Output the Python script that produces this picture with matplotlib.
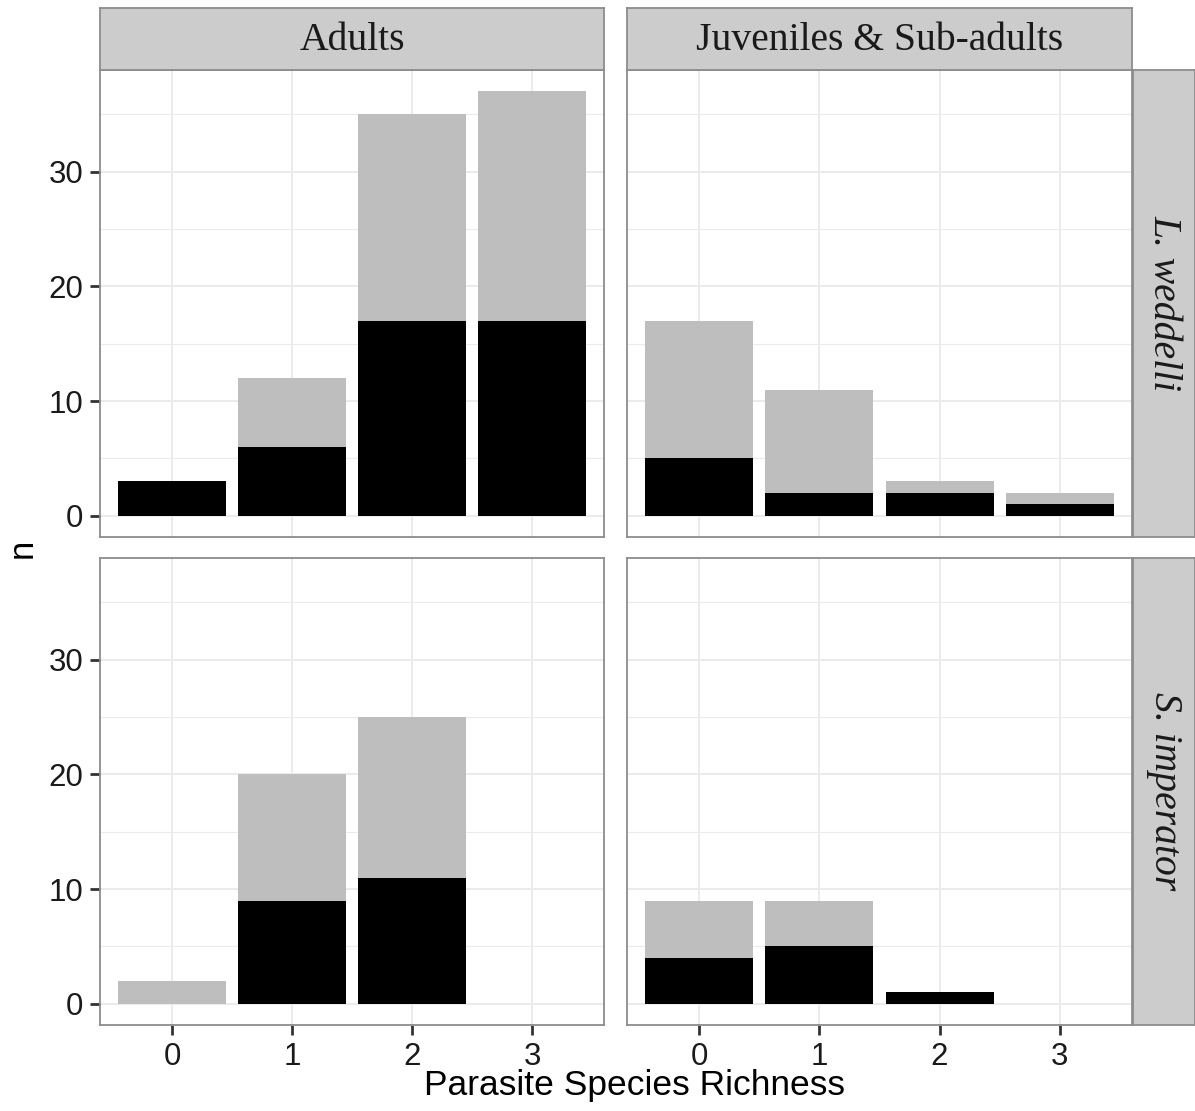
import numpy as np
import matplotlib
matplotlib.use('Agg')
import matplotlib.pyplot as plt
from matplotlib.ticker import MultipleLocator

# %% data
richness = [0, 1, 2, 3]
age_groups = ['Adults', 'Juveniles & Sub-adults']
species = ['L. weddelli', 'S. imperator']

adult_lw_black = [3, 6, 17, 17]
adult_lw_grey = [0, 6, 18, 20]
juv_lw_black = [5, 2, 2, 1]
juv_lw_grey = [12, 9, 1, 1]
adult_si_black = [0, 9, 11, 0]
adult_si_grey = [2, 11, 14, 0]
juv_si_black = [4, 5, 1, 0]
juv_si_grey = [5, 4, 0, 0]

panels = {
    (0, 0): (adult_lw_black, adult_lw_grey),
    (0, 1): (juv_lw_black, juv_lw_grey),
    (1, 0): (adult_si_black, adult_si_grey),
    (1, 1): (juv_si_black, juv_si_grey),
}

# %% layout (pixel coords of the reference)
W, H = 1195, 1111
plt.rcParams['font.family'] = ['Liberation Sans', 'DejaVu Sans']
fig = plt.figure(figsize=(W / 100, H / 100), dpi=100)

col_x = [(100, 604), (627, 1132)]
row_y = [(70, 537), (558, 1025)]
strip_h = 62
border_col = '#8c8c8c'
strip_fill = '#cccccc'
grid_col = '#ebebeb'


def px_rect(x0, x1, y0, y1):
    return [x0 / W, 1 - y1 / H, (x1 - x0) / W, (y1 - y0) / H]


ymax = 37
ylim = (-0.05 * ymax, 1.05 * ymax)

for (r, c), (blk, gry) in panels.items():
    ax = fig.add_axes(px_rect(col_x[c][0], col_x[c][1], row_y[r][0], row_y[r][1]))
    ax.set_axisbelow(True)
    ax.bar(richness, blk, width=0.9, color='black', zorder=2)
    ax.bar(richness, gry, width=0.9, bottom=blk, color='#bebebe', zorder=2)
    ax.set_xlim(-0.6, 3.6)
    ax.set_ylim(*ylim)
    ax.yaxis.set_major_locator(MultipleLocator(10))
    ax.yaxis.set_minor_locator(MultipleLocator(5))
    ax.set_xticks(richness)
    ax.grid(True, which='major', color=grid_col, lw=1.4)
    ax.grid(True, which='minor', axis='y', color=grid_col, lw=0.8)
    for s in ax.spines.values():
        s.set_color(border_col)
        s.set_linewidth(1.3)
    ax.tick_params(which='minor', length=0)
    ax.tick_params(which='major', length=7, width=2.0, color='#333333',
                   labelsize=22.5, labelcolor='#1a1a1a', pad=5)
    if c == 1:
        ax.tick_params(axis='y', left=False, labelleft=False)
    if r == 0:
        ax.tick_params(axis='x', bottom=False, labelbottom=False)

    # top strips
    if r == 0:
        sax = fig.add_axes(px_rect(col_x[c][0], col_x[c][1], 8, 70))
        sax.set_facecolor(strip_fill)
        sax.set_xticks([])
        sax.set_yticks([])
        for s in sax.spines.values():
            s.set_color(border_col)
            s.set_linewidth(1.3)
        sax.text(0.5, 0.48, age_groups[c], ha='center', va='center',
                 fontsize=28.5, family=['Liberation Serif'], color='#1a1a1a',
                 transform=sax.transAxes)
    # right strips
    if c == 1:
        sax = fig.add_axes(px_rect(1133, 1133 + strip_h, row_y[r][0], row_y[r][1]))
        sax.set_facecolor(strip_fill)
        sax.set_xticks([])
        sax.set_yticks([])
        for s in sax.spines.values():
            s.set_color(border_col)
            s.set_linewidth(1.3)
        sax.text(0.5, 0.5, species[r], ha='center', va='center', rotation=-90,
                 fontsize=28.5, family=['Liberation Serif'], style='italic',
                 color='#1a1a1a', transform=sax.transAxes)

fig.text(22 / W, 1 - 548 / H, 'n', rotation=90, ha='center', va='center',
         fontsize=25, color='black')
fig.text(634 / W, 1 - 1086 / H, 'Parasite Species Richness', ha='center',
         va='center', fontsize=25.5, color='black')

plt.savefig('out.png', dpi=100)
